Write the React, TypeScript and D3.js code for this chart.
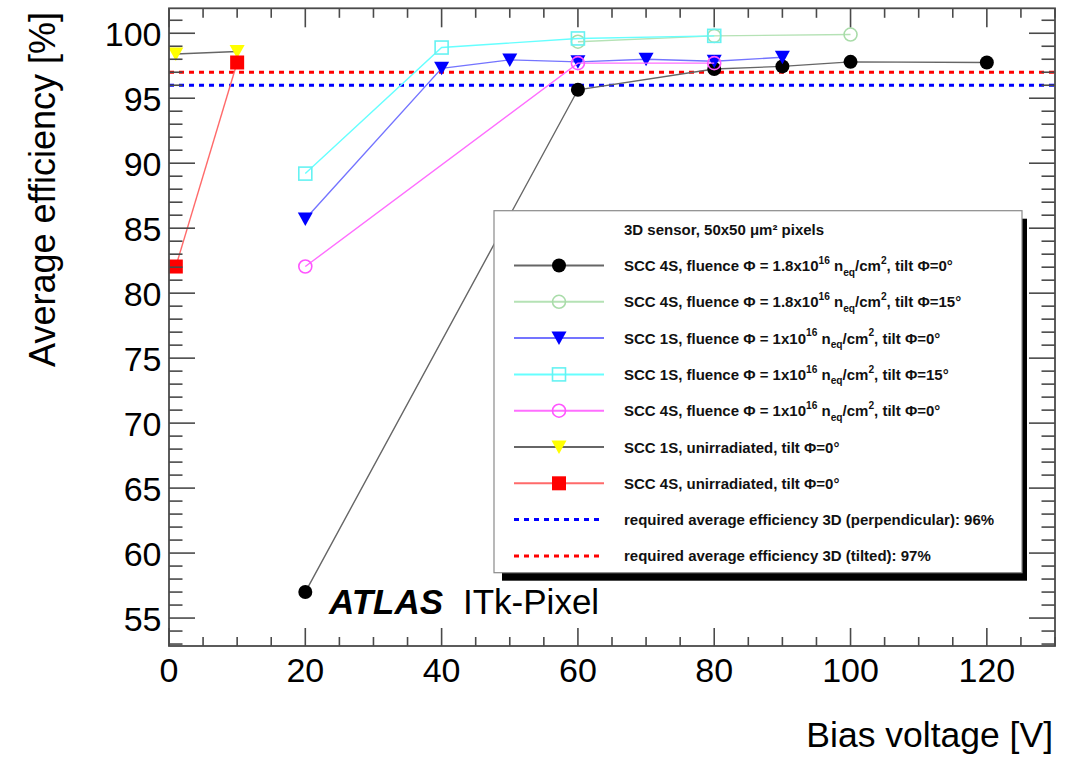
import React from "react";
import * as d3 from "d3";

// ---------- data ----------
const voltA = [20, 60, 80, 90, 100, 120];
const effA = [57.0, 95.65, 97.25, 97.45, 97.8, 97.75];
const voltB = [60, 80, 100];
const effB = [99.35, 99.8, 99.9];
const voltC = [20, 40, 50, 60, 70, 80, 90];
const effC = [85.7, 97.3, 97.95, 97.8, 98.0, 97.85, 98.15];
const voltD = [20, 40, 60, 80];
const effD = [89.2, 98.9, 99.6, 99.8];
const voltE = [20, 60, 80];
const effE = [82.05, 97.7, 97.7];
const voltF = [1, 10];
const effF = [98.4, 98.6];
const voltG = [1, 10];
const effG = [82.05, 97.75];

const reqPerp = 96;
const reqTilt = 97;

const xTickValues = [0, 20, 40, 60, 80, 100, 120];
const yTickValues = [55, 60, 65, 70, 75, 80, 85, 90, 95, 100];

const xTitle = "Bias voltage [V]";
const yTitle = "Average efficiency [%]";
const legendHeader = "3D sensor, 50x50 μm² pixels";

type Part = { t: string; s?: "sup" | "sub" };
const labelA: Part[] = [{ t: "SCC 4S, fluence Φ = 1.8x10" }, { t: "16", s: "sup" }, { t: " n" }, { t: "eq", s: "sub" }, { t: "/cm" }, { t: "2", s: "sup" }, { t: ", tilt Φ=0°" }];
const labelB: Part[] = [{ t: "SCC 4S, fluence Φ = 1.8x10" }, { t: "16", s: "sup" }, { t: " n" }, { t: "eq", s: "sub" }, { t: "/cm" }, { t: "2", s: "sup" }, { t: ", tilt Φ=15°" }];
const labelC: Part[] = [{ t: "SCC 1S, fluence Φ = 1x10" }, { t: "16", s: "sup" }, { t: " n" }, { t: "eq", s: "sub" }, { t: "/cm" }, { t: "2", s: "sup" }, { t: ", tilt Φ=0°" }];
const labelD: Part[] = [{ t: "SCC 1S, fluence Φ = 1x10" }, { t: "16", s: "sup" }, { t: " n" }, { t: "eq", s: "sub" }, { t: "/cm" }, { t: "2", s: "sup" }, { t: ", tilt Φ=15°" }];
const labelE: Part[] = [{ t: "SCC 4S, fluence Φ = 1x10" }, { t: "16", s: "sup" }, { t: " n" }, { t: "eq", s: "sub" }, { t: "/cm" }, { t: "2", s: "sup" }, { t: ", tilt Φ=0°" }];
const labelF: Part[] = [{ t: "SCC 1S, unirradiated, tilt Φ=0°" }];
const labelG: Part[] = [{ t: "SCC 4S, unirradiated, tilt Φ=0°" }];
const labelPerp: Part[] = [{ t: "required average efficiency 3D (perpendicular): 96%" }];
const labelTilt: Part[] = [{ t: "required average efficiency 3D (tilted): 97%" }];

type Shape = "circleFilled" | "circleOpen" | "triDown" | "squareOpen" | "squareFilled";
interface Series {
  volt: number[];
  eff: number[];
  line: string;
  marker: string;
  shape: Shape;
  label: Part[];
}

const series: Series[] = [
  { volt: voltA, eff: effA, line: "#666666", marker: "#000000", shape: "circleFilled", label: labelA },
  { volt: voltB, eff: effB, line: "#b5e2b5", marker: "#a9dca9", shape: "circleOpen", label: labelB },
  { volt: voltC, eff: effC, line: "#7474ff", marker: "#0000ff", shape: "triDown", label: labelC },
  { volt: voltD, eff: effD, line: "#66ffff", marker: "#66f2f2", shape: "squareOpen", label: labelD },
  { volt: voltE, eff: effE, line: "#ff6eff", marker: "#ff55ff", shape: "circleOpen", label: labelE },
  { volt: voltF, eff: effF, line: "#666666", marker: "#ffff00", shape: "triDown", label: labelF },
  { volt: voltG, eff: effG, line: "#ff6a6a", marker: "#ff0000", shape: "squareFilled", label: labelG },
];

const FONT = "'Liberation Sans', Arial, Helvetica, sans-serif";
const FRAME = "#4a4a4a";

function Marker({ shape, x, y, color }: { shape: Shape; x: number; y: number; color: string }) {
  switch (shape) {
    case "circleFilled":
      return <circle cx={x} cy={y} r={7} fill={color} />;
    case "circleOpen":
      return <circle cx={x} cy={y} r={6.5} fill="none" stroke={color} strokeWidth={1.6} />;
    case "triDown":
      return <path d={`M${x - 7.5},${y - 6.5}L${x + 7.5},${y - 6.5}L${x},${y + 7}Z`} fill={color} />;
    case "squareOpen":
      return <rect x={x - 6.5} y={y - 6.5} width={13} height={13} fill="none" stroke={color} strokeWidth={1.6} />;
    case "squareFilled":
      return <rect x={x - 7} y={y - 7} width={14} height={14} fill={color} />;
  }
  return null;
}

function RichText({ parts, x, y, size }: { parts: Part[]; x: number; y: number; size: number }) {
  let shift = 0;
  const small = size * 0.68;
  return (
    <text x={x} y={y} fontFamily={FONT} fontWeight="bold" fontSize={size} fill="#111">
      {parts.map((p, i) => {
        const target = p.s === "sup" ? -size * 0.48 : p.s === "sub" ? size * 0.3 : 0;
        const dy = target - shift;
        shift = target;
        return (
          <tspan key={i} dy={dy} fontSize={p.s ? small : size}>
            {p.t}
          </tspan>
        );
      })}
    </text>
  );
}

export default function App() {
  const left = 169, right = 1055, top = 8.3, bottom = 646;
  const x = d3.scaleLinear().domain([0, 130]).range([left, right]);
  const y = d3.scaleLinear().domain([52.85, 101.92]).range([bottom, top]);

  const line = d3
    .line<[number, number]>()
    .x((d) => x(d[0]))
    .y((d) => y(d[1]));

  const xMinor = d3.range(0, 131, 5).filter((v) => !xTickValues.includes(v));
  const yMinor = d3.range(53, 102, 1).filter((v) => !yTickValues.includes(v));

  // legend geometry
  const lgX = 494, lgY = 210.7, lgW = 528, lgH = 362;
  const rowY0 = 265.5, rowStep = 36.3;
  const sampleX1 = 514, sampleX2 = 604, sampleMid = 559, textX = 624;

  return (
    <svg
      width={1076}
      height={757}
      style={{ position: "absolute", left: 0, top: 0, background: "#fff" }}
      fontFamily={FONT}
    >
      <rect x={0} y={0} width={1076} height={757} fill="#fff" />

      {/* requirement lines */}
      <line x1={left} x2={right} y1={y(reqPerp)} y2={y(reqPerp)} stroke="#0000ff" strokeWidth={3} strokeDasharray="5,5" />
      <line x1={left} x2={right} y1={y(reqTilt)} y2={y(reqTilt)} stroke="#ff0000" strokeWidth={3} strokeDasharray="5,5" />

      {/* series lines and markers */}
      {series.map((s, i) => {
        const pts = s.volt.map((v, j) => [v, s.eff[j]] as [number, number]);
        return (
          <g key={i}>
            <path d={line(pts) || ""} fill="none" stroke={s.line} strokeWidth={1.4} />
            {pts.map((p, j) => (
              <Marker key={j} shape={s.shape} x={x(p[0])} y={y(p[1])} color={s.marker} />
            ))}
          </g>
        );
      })}

      {/* frame */}
      <rect x={left} y={top} width={right - left} height={bottom - top} fill="none" stroke={FRAME} strokeWidth={1.8} />

      {/* x ticks */}
      {xTickValues.map((v) => (
        <g key={"xt" + v}>
          <line x1={x(v)} x2={x(v)} y1={bottom} y2={bottom - 18} stroke={FRAME} strokeWidth={1.6} />
          <line x1={x(v)} x2={x(v)} y1={top} y2={top + 19} stroke={FRAME} strokeWidth={1.6} />
          <text x={x(v)} y={681.5} textAnchor="middle" fontSize={34} fill="#000">
            {v}
          </text>
        </g>
      ))}
      {xMinor.map((v) => (
        <g key={"xm" + v}>
          <line x1={x(v)} x2={x(v)} y1={bottom} y2={bottom - 9} stroke={FRAME} strokeWidth={1.6} />
          <line x1={x(v)} x2={x(v)} y1={top} y2={top + 9.5} stroke={FRAME} strokeWidth={1.6} />
        </g>
      ))}

      {/* y ticks */}
      {yTickValues.map((v) => (
        <g key={"yt" + v}>
          <line x1={left} x2={left + 26} y1={y(v)} y2={y(v)} stroke={FRAME} strokeWidth={1.6} />
          <line x1={right} x2={right - 26} y1={y(v)} y2={y(v)} stroke={FRAME} strokeWidth={1.6} />
          <text x={161.5} y={y(v) + 12.5} textAnchor="end" fontSize={34} fill="#000">
            {v}
          </text>
        </g>
      ))}
      {yMinor.map((v) => (
        <g key={"ym" + v}>
          <line x1={left} x2={left + 13.5} y1={y(v)} y2={y(v)} stroke={FRAME} strokeWidth={1.6} />
          <line x1={right} x2={right - 13.5} y1={y(v)} y2={y(v)} stroke={FRAME} strokeWidth={1.6} />
        </g>
      ))}

      {/* axis titles */}
      <text x={1053} y={747} textAnchor="end" fontSize={35.5} fill="#000">
        {xTitle}
      </text>
      <text transform="translate(55,12) rotate(-90)" textAnchor="end" fontSize={36} fill="#000">
        {yTitle}
      </text>

      {/* ATLAS label */}
      <text x={329} y={614} fontSize={35} fill="#000">
        <tspan fontWeight="bold" fontStyle="italic">ATLAS</tspan>
        <tspan x={463}>ITk-Pixel</tspan>
      </text>

      {/* legend */}
      <rect x={lgX + 8} y={lgY + 8} width={lgW - 3} height={lgH} fill="#000" />
      <rect x={lgX} y={lgY} width={lgW} height={lgH} fill="#fff" stroke="#8a8a8a" strokeWidth={1.2} />
      <text x={textX} y={229 + 5.5} fontWeight="bold" fontSize={15} fill="#111">
        {legendHeader}
      </text>
      {series.map((s, i) => {
        const ry = rowY0 + i * rowStep;
        return (
          <g key={"lg" + i}>
            <line x1={sampleX1} x2={sampleX2} y1={ry} y2={ry} stroke={s.line} strokeWidth={2} />
            <Marker shape={s.shape} x={sampleMid} y={ry} color={s.marker} />
            <RichText parts={s.label} x={textX} y={ry + 5.5} size={15} />
          </g>
        );
      })}
      {[
        { c: "#0000ff", label: labelPerp },
        { c: "#ff0000", label: labelTilt },
      ].map((d, k) => {
        const ry = rowY0 + (series.length + k) * rowStep;
        return (
          <g key={"lr" + k}>
            <line x1={sampleX1} x2={sampleX2} y1={ry} y2={ry} stroke={d.c} strokeWidth={3} strokeDasharray="5,5" />
            <RichText parts={d.label} x={textX} y={ry + 5.5} size={15} />
          </g>
        );
      })}
    </svg>
  );
}
